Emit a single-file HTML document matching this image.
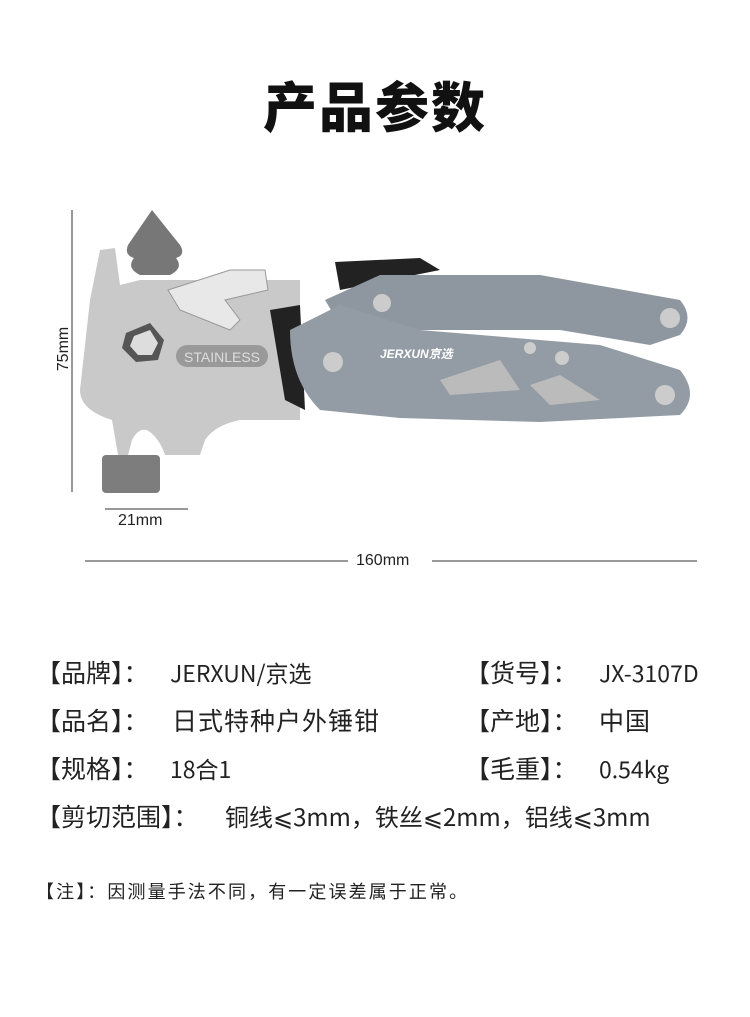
<!DOCTYPE html><html><head><meta charset="utf-8"><style>
body{margin:0;width:750px;height:1017px;background:#fff;position:relative;overflow:hidden;font-family:"Liberation Sans","Noto Sans CJK SC",sans-serif;color:#222}
.t{position:absolute;white-space:nowrap}
h1{position:absolute;left:0;width:750px;top:72px;margin:0;text-align:center;font-size:54px;line-height:64px;font-weight:900;letter-spacing:2px;color:#111;font-family:"Noto Sans CJK SC",sans-serif}
.r{font-size:25px;line-height:30px;font-family:"Noto Sans CJK SC",sans-serif}
.s{font-size:23px}
</style></head><body>
<h1>产品参数</h1>
<svg width="750" height="600" style="position:absolute;left:0;top:0">
<line x1="72" y1="210" x2="72" y2="492" stroke="#333"/>
<line x1="105" y1="509" x2="188" y2="509" stroke="#333"/>
<line x1="85" y1="561" x2="348" y2="561" stroke="#333"/>
<line x1="432" y1="561" x2="697" y2="561" stroke="#333"/>
<path d="M152 210 L128 245 Q124 255 134 258 Q126 268 140 275 L170 275 Q184 268 176 258 Q186 255 180 245 Z" fill="#777"/>
<path d="M100 250 L115 248 L120 285 L140 280 L300 280 L300 420 L240 420 Q215 425 205 440 L200 455 L165 455 Q160 440 150 432 Q140 425 132 440 L128 455 L118 455 L112 420 Q80 410 80 390 L90 300 Z" fill="#c9c9c9"/>
<rect x="102" y="455" width="58" height="38" rx="4" fill="#7d7d7d"/>
<polygon points="126,333 150,323 164,340 158,360 136,362 122,348" fill="#555"/>
<polygon points="134,336 150,330 158,343 152,355 138,355 130,346" fill="#ddd"/>
<rect x="176" y="345" width="92" height="22" rx="11" fill="#999"/>
<text x="222" y="362" font-size="14" text-anchor="middle" fill="#ddd" font-family="Liberation Sans">STAINLESS</text>
<path d="M168 290 L230 270 L265 270 L268 290 L225 300 L240 320 L230 330 L180 310 Z" fill="#e8e8e8" stroke="#999"/>
<path d="M335 262 L420 258 L440 270 L340 290 Z" fill="#222"/>
<path d="M270 310 L300 305 L305 410 L285 400 Z" fill="#222"/>
<path d="M325 300 L380 275 L540 275 L680 300 Q695 318 680 335 L650 345 L560 330 L400 330 L340 325 Z" fill="#8e979f"/>
<path d="M290 330 L340 305 L420 330 L600 345 L680 370 Q700 395 680 415 L540 422 L400 418 L320 410 Q290 380 290 330 Z" fill="#939ca4"/>
<path d="M440 380 L500 360 L520 390 L450 395 Z" fill="#bbb"/>
<path d="M530 385 L560 375 L600 400 L550 405 Z" fill="#bbb"/>
<circle cx="333" cy="362" r="10" fill="#ccc"/><circle cx="665" cy="395" r="10" fill="#ccc"/>
<circle cx="382" cy="303" r="9" fill="#ccc"/><circle cx="670" cy="318" r="10" fill="#ccc"/>
<circle cx="530" cy="348" r="6" fill="#ccc"/><circle cx="562" cy="358" r="7" fill="#ccc"/>
<text x="380" y="358" font-size="12" fill="#fff" font-weight="bold" font-style="italic">JERXUN京选</text>
</svg>
<div class="t" style="left:42px;top:340px;transform:rotate(-90deg);font-size:16px">75mm</div>
<div class="t" style="left:118px;top:512px;font-size:16px">21mm</div>
<div class="t" style="left:356px;top:552px;font-size:16px">160mm</div>
<div class="t r" style="left:36px;top:657px">【品牌】：</div>
<div class="t r s" style="left:170px;top:657px">JERXUN/京选</div>
<div class="t r" style="left:465px;top:657px">【货号】：</div>
<div class="t r s" style="left:599px;top:657px">JX-3107D</div>
<div class="t r" style="left:36px;top:705px">【品名】：</div>
<div class="t r" style="left:172px;top:705px;letter-spacing:1px">日式特种户外锤钳</div>
<div class="t r" style="left:465px;top:705px">【产地】：</div>
<div class="t r" style="left:599px;top:705px;letter-spacing:1px">中国</div>
<div class="t r" style="left:36px;top:753px">【规格】：</div>
<div class="t r s" style="left:170px;top:753px">18合1</div>
<div class="t r" style="left:465px;top:753px">【毛重】：</div>
<div class="t r s" style="left:599px;top:753px">0.54kg</div>
<div class="t r" style="left:36px;top:801px">【剪切范围】：</div>
<div class="t r" style="left:225px;top:801px;font-size:24px">铜线⩽3mm，铁丝⩽2mm，铝线⩽3mm</div>
<div class="t" style="left:36px;top:879px;font-size:18px;letter-spacing:2.1px;line-height:24px;font-family:'Noto Sans CJK SC',sans-serif">【注】：因测量手法不同，有一定误差属于正常。</div>
</body></html>
